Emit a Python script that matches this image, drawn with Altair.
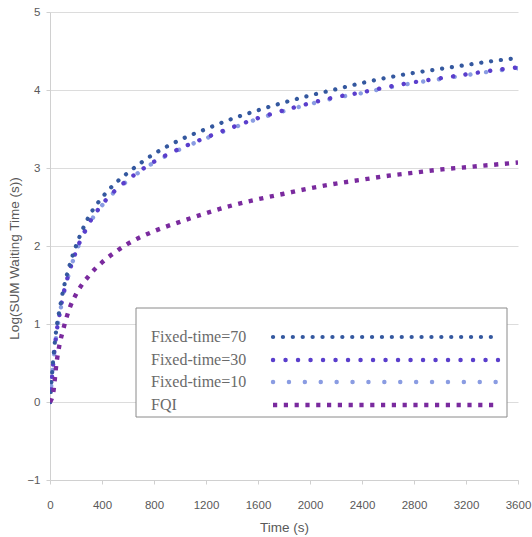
import altair as alt
import pandas as pd

# ---- data ----
time_s = [0, 25, 50, 75, 100, 150, 200, 300, 400, 500, 600, 800, 1000, 1200,
          1400, 1600, 1800, 2000, 2200, 2400, 2600, 2800, 3000, 3200, 3400, 3600]
fixed70 = [0.0, 0.55, 0.95, 1.20, 1.42, 1.75, 2.00, 2.38, 2.62, 2.80, 2.94, 3.18, 3.36, 3.50,
           3.63, 3.74, 3.84, 3.93, 4.01, 4.09, 4.16, 4.22, 4.27, 4.32, 4.37, 4.41]
fixed30 = [0.0, 0.50, 0.89, 1.14, 1.36, 1.68, 1.93, 2.29, 2.53, 2.71, 2.85, 3.08, 3.25, 3.39,
           3.52, 3.64, 3.74, 3.83, 3.91, 3.97, 4.04, 4.10, 4.15, 4.20, 4.25, 4.29]
fixed10 = [0.0, 0.50, 0.88, 1.13, 1.35, 1.67, 1.92, 2.28, 2.52, 2.70, 2.84, 3.07, 3.24, 3.38,
           3.51, 3.63, 3.73, 3.82, 3.90, 3.96, 4.03, 4.09, 4.14, 4.19, 4.24, 4.28]
fqi = [0.0, 0.12, 0.50, 0.75, 0.92, 1.20, 1.38, 1.62, 1.79, 1.92, 2.03, 2.19, 2.31, 2.42,
       2.52, 2.60, 2.67, 2.74, 2.80, 2.85, 2.90, 2.94, 2.98, 3.01, 3.04, 3.07]

series_names = ["Fixed-time=70", "Fixed-time=30", "Fixed-time=10", "FQI"]
series_values = [fixed70, fixed30, fixed10, fqi]
x_ticks = [0, 400, 800, 1200, 1600, 2000, 2400, 2800, 3200, 3600]
y_ticks = [-1, 0, 1, 2, 3, 4, 5]

# ---- styles ----
styles = {
    "Fixed-time=70": dict(color="#34589f", dash=[0.1, 9.8], cap="round", width=4.2),
    "Fixed-time=30": dict(color="#5a3ecc", dash=[0.1, 12.4], cap="round", width=4.4),
    "Fixed-time=10": dict(color="#8a9ce2", dash=[0.1, 15.8], cap="round", width=4.4),
    "FQI": dict(color="#7a2a9e", dash=[4.2, 6.6], cap="butt", width=4.4),
}
draw_order = ["Fixed-time=10", "Fixed-time=30", "Fixed-time=70", "FQI"]

W, H = 468, 468
x_scale = alt.Scale(domain=[0, 3600], nice=False)
y_scale = alt.Scale(domain=[-1, 5], nice=False)

x_axis = alt.Axis(values=x_ticks, format="d", title="Time (s)", grid=False, domain=True,
                  domainColor="#d0d0d0", tickColor="#d0d0d0", tickSize=4,
                  labelPadding=15, labelFlush=False, labelFont="Liberation Sans",
                  labelFontSize=11.5, labelColor="#595959", titleFont="Liberation Sans",
                  titleFontSize=13.5, titleFontWeight="normal", titleColor="#595959",
                  titlePadding=10)
y_axis = alt.Axis(values=y_ticks, format="d", title="Log(SUM Waiting Time (s))", grid=True,
                  gridColor="#dcdcdc", domain=True, domainColor="#d0d0d0",
                  tickColor="#d0d0d0", tickSize=4, labelPadding=6,
                  labelFont="Liberation Sans", labelFontSize=11.5, labelColor="#595959",
                  titleFont="Liberation Sans", titleFontSize=13.5, titleFontWeight="normal",
                  titleColor="#595959", titleX=-36, titleY=H / 2 + 12, titleAngle=-90,
                  titleAlign="center", titleBaseline="middle")

layers = []
for name in draw_order:
    vals = series_values[series_names.index(name)]
    df = pd.DataFrame({"t": time_s, "v": vals})
    st = styles[name]
    ch = alt.Chart(df).mark_line(
        color=st["color"], strokeDash=st["dash"], strokeCap=st["cap"],
        strokeWidth=st["width"], interpolate="monotone", clip=True
    ).encode(
        x=alt.X("t:Q", scale=x_scale, axis=x_axis),
        y=alt.Y("v:Q", scale=y_scale, axis=y_axis),
    )
    layers.append(ch)

# ---- legend box (drawn inside the plot, pixel positions) ----
box = alt.Chart(pd.DataFrame({"k": [0]})).mark_rect(
    fill="white", stroke="#8a8a8a", strokeWidth=1
).encode(x=alt.value(86), x2=alt.value(457), y=alt.value(296), y2=alt.value(405))
layers.append(box)

row_y = [325, 348, 370, 393]
for i, name in enumerate(series_names):
    st = styles[name]
    d = pd.DataFrame({"s": [name]})
    txt = alt.Chart(d).mark_text(
        align="left", baseline="middle", font="Liberation Serif", fontSize=16,
        color="#6a6a6a"
    ).encode(x=alt.value(101), y=alt.value(row_y[i]), text="s:N")
    sym = alt.Chart(d).mark_rule(
        color=st["color"], strokeDash=st["dash"], strokeCap=st["cap"],
        strokeWidth=st["width"]
    ).encode(x=alt.value(223), x2=alt.value(448), y=alt.value(row_y[i]))
    layers += [txt, sym]

chart = alt.layer(*layers).properties(
    width=W, height=H,
    background="white",
    autosize=alt.AutoSizeParams(type="none"),
    padding={"left": 50, "top": 12, "right": 14, "bottom": 57},
).configure_view(stroke=None)

chart.save("out.html", embed_options={"renderer": "svg", "actions": False})
